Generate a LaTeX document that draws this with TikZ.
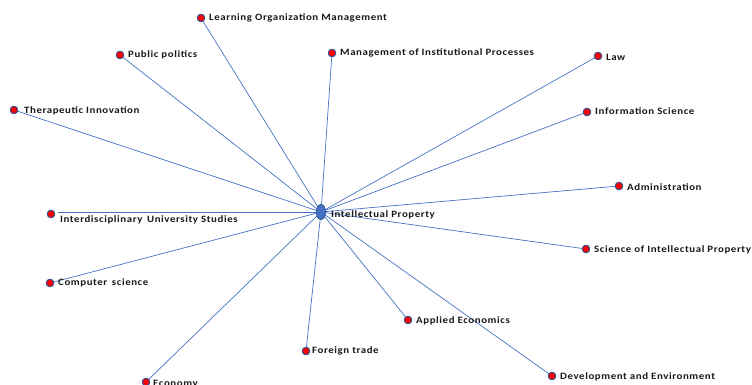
\documentclass[tikz,border=0pt]{standalone}
\usepackage{fontspec}
\setmainfont{Carlito}
\newfontfamily\lblfont[FakeStretch=1.12, LetterSpace=6]{Carlito}
\usetikzlibrary{shapes.geometric}
\definecolor{edgeblue}{RGB}{68,114,196}
\definecolor{dotred}{RGB}{255,0,0}
\definecolor{dotrim}{RGB}{47,85,151}
\tikzset{
  leaf/.style={circle, fill=dotred, draw=dotrim, line width=0.8pt, minimum size=7.5pt, inner sep=0pt},
  hub/.style={ellipse, fill=edgeblue, draw=dotrim, line width=0.6pt, minimum width=9pt, minimum height=15pt, inner sep=0pt},
  lbl/.style={anchor=west, font=\lblfont\bfseries\fontsize{9.7}{11}\selectfont, inner sep=0pt, text=black!90},
  edge/.style={draw=edgeblue, line width=0.7pt}
}
\begin{document}
\begin{tikzpicture}[x=1pt,y=-1pt]
\useasboundingbox (0,0) rectangle (752,385);
\node[hub] (c) at (321,212) {};
% leaves
\node[leaf] (n1) at (201,18) {};
\node[leaf] (n2) at (120,55) {};
\node[leaf] (n3) at (332,53) {};
\node[leaf] (n4) at (598,56) {};
\node[leaf] (n5) at (14,110) {};
\node[leaf] (n6) at (587,112) {};
\node[leaf] (n7) at (619,186) {};
\node[leaf] (n8) at (51,214) {};
\coordinate (n8e) at (58,212);
\node[leaf] (n9) at (586,249) {};
\node[leaf] (n10) at (50,283) {};
\node[leaf] (n11) at (408,320) {};
\node[leaf] (n12) at (306,351) {};
\node[leaf] (n13) at (146,382) {};
\node[leaf] (n14) at (552,376) {};
% edges
\foreach \n in {n1,n2,n3,n4,n5,n6,n7,n9,n10,n11,n12,n13,n14}
  \draw[edge] (c.center) -- (\n.center);
\draw[edge] (c.center) -- (n8e);
% redraw dots on top
\foreach \p in {(201,18),(120,55),(332,53),(598,56),(14,110),(587,112),(619,186),(51,214),(586,249),(50,283),(408,320),(306,351),(146,382),(552,376)}
  \node[leaf] at \p {};
\node[hub] at (321,212) {};
% labels
\node[lbl] (lc) at (331,215) {Intellectual Property};
\node[lbl] (l1) at (209,18) {Learning Organization Management};
\node[lbl] (l2) at (128,55) {Public politics};
\node[lbl] (l3) at (340,53) {Management of Institutional Processes};
\node[lbl] (l4) at (606,57) {Law};
\node[lbl] (l5) at (24,111) {Therapeutic Innovation};
\node[lbl] (l6) at (595,111) {Information Science};
\node[lbl] (l7) at (627,187) {Administration};
\node[lbl] (l8) at (60,220) {Interdisciplinary\, University Studies};
\node[lbl] (l9) at (594,250) {Science of Intellectual Property};
\node[lbl] (l10) at (58,283) {Computer\, science};
\node[lbl] (l11) at (416,321) {Applied Economics};
\node[lbl] (l12) at (312,351) {Foreign trade};
\node[lbl] (l13) at (153,384) {Economy};
\node[lbl] (l14) at (560,377) {Development and Environment};
\end{tikzpicture}
\end{document}
